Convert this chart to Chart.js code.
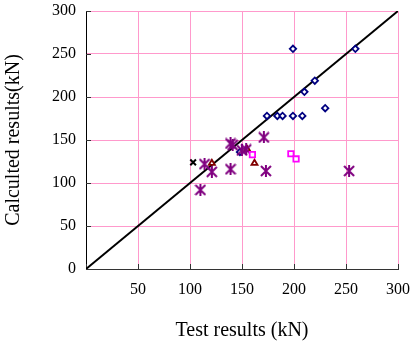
<!DOCTYPE html>
<html>
<head>
<meta charset="utf-8">
<script src="https://cdn.jsdelivr.net/npm/chart.js@4.4.1/dist/chart.umd.min.js"></script>
<style>
  html, body { margin: 0; padding: 0; background: #fff; }
  canvas { display: block; }
</style>
</head>
<body>
<canvas id="chart" width="412" height="341"></canvas>
<script>
// ---- data ----
const diamondX = [199, 259, 220, 210, 230, 174, 184, 189, 199, 208, 148];
const diamondY = [256, 256, 219, 206, 187, 178, 178, 178, 178, 178, 136];

const starX = [110, 114, 121, 139, 141, 139, 150, 154, 171, 173, 253];
const starY = [92, 122, 113, 146, 144, 116, 138, 139, 153, 114, 114];

const crossX = [103];
const crossY = [124];

const triangleX = [121, 162, 155];
const triangleY = [123, 123, 139];

const squareX = [160, 197, 202];
const squareY = [133, 134, 128];

const lineX = [0, 300];
const lineY = [0, 300];

const AXIS_MIN = 0, AXIS_MAX = 300, AXIS_STEP = 50;

const pts = (xs, ys) => xs.map((x, i) => ({ x, y: ys[i] }));

// Excel-like asterisk marker (X plus a vertical stroke)
function makeAsterisk(color) {
  const c = document.createElement('canvas');
  c.width = 12; c.height = 12;
  const g = c.getContext('2d');
  g.strokeStyle = color;
  g.lineWidth = 2;
  g.beginPath();
  g.moveTo(1, 1); g.lineTo(11, 11);
  g.moveTo(11, 1); g.lineTo(1, 11);
  g.moveTo(6, 0); g.lineTo(6, 12);
  g.stroke();
  return c;
}

// small tick marks pointing into the plot
const innerTicks = {
  id: 'innerTicks',
  beforeDatasetsDraw(chart) {
    const { ctx, chartArea, scales } = chart;
    ctx.save();
    ctx.strokeStyle = '#333';
    ctx.lineWidth = 1;
    ctx.beginPath();
    scales.y.ticks.forEach(t => {
      const y = Math.round(scales.y.getPixelForValue(t.value)) + 0.5;
      ctx.moveTo(chartArea.left, y);
      ctx.lineTo(chartArea.left + 5, y);
    });
    scales.x.ticks.forEach(t => {
      const x = Math.round(scales.x.getPixelForValue(t.value)) + 0.5;
      ctx.moveTo(x, chartArea.bottom);
      ctx.lineTo(x, chartArea.bottom - 5);
    });
    ctx.stroke();
    ctx.restore();
  }
};

const FONT = "'Liberation Serif', 'Times New Roman', serif";

new Chart(document.getElementById('chart'), {
  type: 'scatter',
  data: {
    datasets: [
      {
        label: 'squares', data: pts(squareX, squareY), order: 1,
        pointStyle: 'rect', pointRadius: 3.8, borderWidth: 1.8,
        borderColor: '#ff00ff', backgroundColor: '#fff'
      },
      {
        label: 'triangles', data: pts(triangleX, triangleY), order: 3,
        pointStyle: 'triangle', pointRadius: 3.5, borderWidth: 1.8,
        borderColor: '#800000', backgroundColor: '#fff'
      },
      {
        label: 'cross', data: pts(crossX, crossY), order: 2,
        pointStyle: 'crossRot', pointRadius: 4, borderWidth: 2,
        borderColor: '#000'
      },
      {
        label: 'stars', data: pts(starX, starY), order: 2,
        pointStyle: makeAsterisk('#800080'), pointRadius: 6,
        borderColor: '#800080'
      },
      {
        label: 'diamonds', data: pts(diamondX, diamondY), order: 5,
        pointStyle: 'rectRot', pointRadius: 3.2, borderWidth: 1.8,
        borderColor: '#000080', backgroundColor: '#fff'
      },
      {
        type: 'line', label: 'y = x', data: pts(lineX, lineY), order: 10,
        showLine: true, pointRadius: 0, borderColor: '#000', borderWidth: 2,
        fill: false, tension: 0
      }
    ]
  },
  options: {
    responsive: false,
    animation: false,
    events: [],
    layout: { padding: 0 },
    plugins: { legend: { display: false }, tooltip: { enabled: false } },
    scales: {
      x: {
        type: 'linear', min: AXIS_MIN, max: AXIS_MAX,
        afterFit: s => { s.height = 72; s.paddingLeft = 0; s.paddingRight = 14; },
        ticks: {
          stepSize: AXIS_STEP, padding: 11, color: '#000',
          font: { family: FONT, size: 16 },
          callback: v => v === 0 ? '' : v
        },
        grid: { color: '#ff99cc', lineWidth: 1, drawTicks: false },
        border: { color: '#333', width: 1 },
        title: {
          display: true, text: 'Test results (kN)', color: '#000',
          font: { family: FONT, size: 20, lineHeight: 1.0 },
          padding: { top: 0, bottom: 0 }
        }
      },
      y: {
        type: 'linear', min: AXIS_MIN, max: AXIS_MAX,
        afterFit: s => { s.width = 86; s.paddingTop = 11; s.paddingBottom = 0; },
        ticks: {
          stepSize: AXIS_STEP, padding: 10, color: '#000',
          font: { family: FONT, size: 16 }
        },
        grid: { color: '#ff99cc', lineWidth: 1, drawTicks: false },
        border: { color: '#000', width: 1 },
        title: {
          display: true, text: 'Calculted results(kN)', color: '#000',
          font: { family: FONT, size: 20, lineHeight: 1.2 },
          padding: { top: 2, bottom: 0 }
        }
      }
    }
  },
  plugins: [innerTicks]
});
</script>
</body>
</html>
